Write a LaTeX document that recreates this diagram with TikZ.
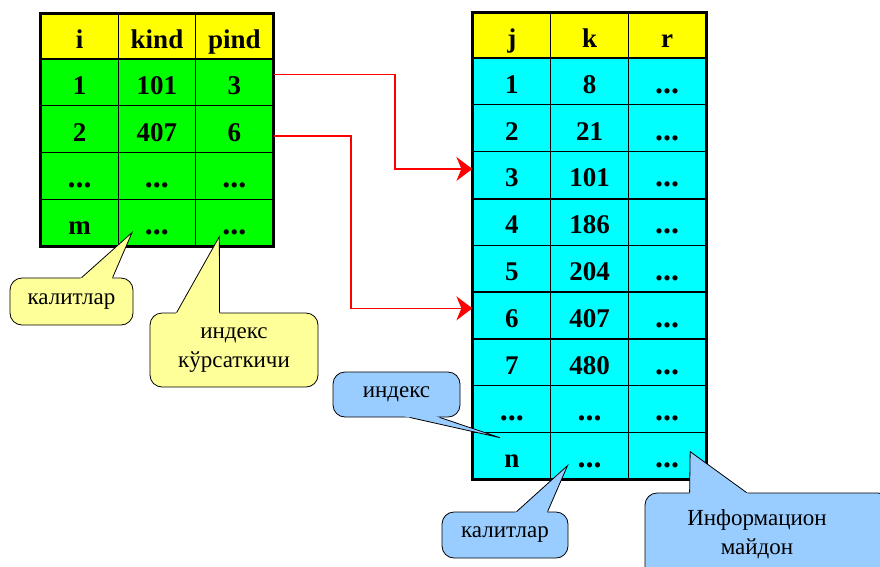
\documentclass[tikz,border=0pt]{standalone}
\usepackage{fontspec}
\setmainfont{Liberation Serif}
\usetikzlibrary{arrows.meta,calc}
\definecolor{hdr}{HTML}{FFFF00}
\definecolor{grn}{HTML}{00FF00}
\definecolor{cyn}{HTML}{00FFFF}
\definecolor{ycall}{HTML}{FFFF99}
\definecolor{bcall}{HTML}{99CCFF}
\newcommand{\tdots}{{\fontsize{32}{32}\selectfont ...}}
\begin{document}
\begin{tikzpicture}[x=1pt,y=-1pt,
  cell/.style={draw=black, line width=1.2pt, inner sep=0pt,
    font=\fontsize{27}{30}\selectfont\bfseries, text height=24pt, text depth=0pt},
  lcell/.style={cell, minimum width=77.33pt, minimum height=46.75pt},
  rcell/.style={cell, minimum width=77.67pt, minimum height=46.78pt},
  callout/.style={draw=black, line width=0.8pt, rounded corners=12pt, inner sep=0pt,
    font=\fontsize{23}{29}\selectfont, align=center},
  yc/.style={callout, fill=ycall},
  bc/.style={callout, fill=bcall},
  ptr/.style={draw=black, line width=0.8pt, line join=miter},
  arr/.style={draw=red, line width=1.3pt, -{Stealth[length=16pt,width=24pt,inset=5pt]}},
  border/.style={draw=black, line width=3pt}
]
\useasboundingbox (0,0) rectangle (880,566);
\clip (0,0) rectangle (880,566);

% ---------- left table ----------
\foreach \c/\t in {1/i,2/kind,3/pind}
  \node[lcell, fill=hdr, minimum height=45pt] (L-0-\c) at ({41+77.33*(\c-0.5)},36.5) {\t};
\foreach \r/\a/\b/\cc in {1/1/101/3,2/2/407/6,3/\tdots/\tdots/\tdots,4/m/\tdots/\tdots} {
  \node[lcell, fill=grn] (L-\r-1) at ({41+77.33*0.5},{59+46.75*(\r-0.5)}) {\a};
  \node[lcell, fill=grn] (L-\r-2) at ({41+77.33*1.5},{59+46.75*(\r-0.5)}) {\b};
  \node[lcell, fill=grn] (L-\r-3) at ({41+77.33*2.5},{59+46.75*(\r-0.5)}) {\cc};
}
\draw[border] (L-0-1.north west) rectangle (L-4-3.south east);

% ---------- right table ----------
\foreach \c/\t in {1/j,2/k,3/r}
  \node[rcell, fill=hdr, minimum height=45pt] (R-0-\c) at ({473+77.67*(\c-0.5)},35.5) {\t};
\foreach \r/\a/\b in {1/1/8,2/2/21,3/3/101,4/4/186,5/5/204,6/6/407,7/7/480,8/\tdots/\tdots,9/n/\tdots} {
  \node[rcell, fill=cyn] (R-\r-1) at ({473+77.67*0.5},{58+46.78*(\r-0.5)}) {\a};
  \node[rcell, fill=cyn] (R-\r-2) at ({473+77.67*1.5},{58+46.78*(\r-0.5)}) {\b};
  \node[rcell, fill=cyn] (R-\r-3) at ({473+77.67*2.5},{58+46.78*(\r-0.5)}) {\tdots};
}
\draw[line width=2.4pt] (R-3-1.south west) -- (R-3-3.south east);
\draw[line width=2.4pt] (R-6-1.south west) -- (R-6-3.south east);
\draw[border] (R-0-1.north west) rectangle (R-9-3.south east);

% ---------- arrows ----------
\coordinate (m1) at (395,120);
\coordinate (m2) at (351,200);
\draw[arr] ([yshift=8pt]L-1-3.east) -| (m1) |- ([yshift=6pt]R-3-1.west);
\draw[arr] ([yshift=-7pt]L-2-3.east) -| (m2) |- ([yshift=7pt]R-6-1.west);

% ---------- callouts ----------
% yellow: калитлар
\node[yc, minimum width=123pt, minimum height=47pt] (c1) at (71.5,301.5) {калитлар};
\coordinate (t1) at ($(L-4-2.center)+(-25,10)$);
\coordinate (c1a) at ($(c1.north west)+(72,0)$);
\coordinate (c1b) at ($(c1.north west)+(103,0)$);
\fill[ycall] ($(c1a)!-0.06!(t1)$) -- (t1) -- ($(c1b)!-0.06!(t1)$) -- cycle;
\draw[ptr] (c1a) -- (t1) -- (c1b);

% yellow: индекс кўрсаткичи
\node[yc, minimum width=168pt, minimum height=74pt] (c2) at (234,350) {индекс\\кўрсаткичи};
\coordinate (t2) at ($(L-4-3.center)+(-15,14)$);
\coordinate (c2a) at ($(c2.north west)+(27,0)$);
\coordinate (c2b) at ($(c2.north west)+(70,0)$);
\fill[ycall] ($(c2a)!-0.06!(t2)$) -- (t2) -- ($(c2b)!-0.06!(t2)$) -- cycle;
\draw[ptr] (c2a) -- (t2) -- (c2b);

% blue: индекс
\node[bc, minimum width=127pt, minimum height=45pt] (c3) at (396.5,394.5) {индекс};
\coordinate (t3) at ($(R-9-1.center)+(-12,-18)$);
\coordinate (c3a) at ($(c3.south west)+(77,0)$);
\coordinate (c3b) at ($(c3.south west)+(107,0)$);
\fill[bcall] ($(c3a)!-0.06!(t3)$) -- (t3) -- ($(c3b)!-0.06!(t3)$) -- cycle;
\draw[ptr] (c3a) -- (t3) -- (c3b);

% blue: калитлар
\node[bc, minimum width=126pt, minimum height=46pt] (c4) at (505,535) {калитлар};
\coordinate (t4) at ($(R-9-2.center)+(-22,10)$);
\coordinate (c4a) at ($(c4.north west)+(75,0)$);
\coordinate (c4b) at ($(c4.north west)+(106,0)$);
\fill[bcall] ($(c4a)!-0.06!(t4)$) -- (t4) -- ($(c4b)!-0.06!(t4)$) -- cycle;
\draw[ptr] (c4a) -- (t4) -- (c4b);

% blue: Информацион майдон
\node[bc, minimum width=245pt, minimum height=87pt] (c5) at (767.5,536.5) {};
\node[font=\fontsize{23}{29}\selectfont, align=center, inner sep=0pt] (c5t) at (757,534) {Информацион\\майдон};
\coordinate (t5) at ($(R-9-3.center)+(23,-4)$);
\coordinate (c5a) at ($(c5.north west)+(45,0)$);
\coordinate (c5b) at ($(c5.north west)+(102,0)$);
\fill[bcall] ($(c5a)!-0.06!(t5)$) -- (t5) -- ($(c5b)!-0.06!(t5)$) -- cycle;
\draw[ptr] (c5a) -- (t5) -- (c5b);
\end{tikzpicture}
\end{document}
